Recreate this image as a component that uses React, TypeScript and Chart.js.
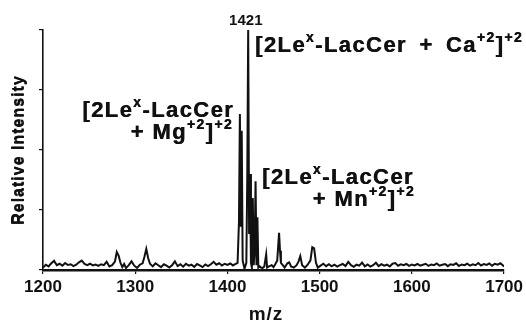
import React, { useEffect, useRef } from "react";
import { Chart, registerables } from "chart.js";

Chart.register(...registerables);

// m/z positions of the trace points
const mzValues: number[] = [
  1200, 1203, 1206, 1209, 1212, 1215, 1218, 1221, 1224, 1227, 1230, 1233, 1236, 1239, 1242, 1245,
  1248, 1251, 1254, 1257, 1260, 1263, 1266, 1269, 1272, 1275, 1278, 1280, 1282, 1284, 1286, 1288,
  1290, 1293, 1296, 1299, 1302, 1305, 1308, 1310, 1312, 1314, 1316, 1319, 1322, 1325, 1328, 1331,
  1334, 1337, 1340, 1343, 1346, 1349, 1352, 1355, 1358, 1361, 1364, 1367, 1370, 1373, 1376, 1379,
  1382, 1385, 1388, 1391, 1394, 1397, 1400, 1403, 1406, 1408, 1411, 1412.5, 1413.5, 1414.5, 1415.5, 1416.5,
  1418.5, 1420.5, 1421.5, 1422.5, 1423.5, 1424.5, 1425.5, 1426.5, 1427.5, 1428.5, 1429.5, 1430.5, 1431.5, 1432.5, 1433.5, 1435,
  1436.5, 1438, 1440, 1442, 1443, 1445, 1448, 1450, 1452, 1454, 1456, 1457, 1458, 1460, 1462, 1465,
  1467, 1469, 1472, 1475, 1477, 1479, 1481, 1484, 1487, 1490, 1492, 1494, 1496, 1498, 1501, 1504,
  1507, 1510, 1513, 1516, 1519, 1522, 1525, 1528, 1531, 1534, 1537, 1540, 1543, 1546, 1549, 1552,
  1555, 1558, 1561, 1564, 1567, 1570, 1573, 1576, 1579, 1582, 1585, 1588, 1591, 1594, 1597, 1600,
  1603, 1606, 1609, 1612, 1615, 1618, 1621, 1624, 1627, 1630, 1633, 1636, 1639, 1642, 1645, 1648,
  1651, 1654, 1657, 1660, 1663, 1666, 1669, 1672, 1675, 1678, 1681, 1684, 1687, 1690, 1693, 1696,
  1700,
];

// relative intensity (%) at each m/z above
const intensities: number[] = [
  1.0, 2.2, 1.5, 2.8, 3.8, 2.0, 2.6, 1.8, 2.9, 2.1, 2.4, 1.6, 2.2, 3.2, 3.9, 2.5,
  2.0, 2.6, 1.9, 2.3, 1.7, 2.4, 2.0, 3.4, 1.5, 2.0, 3.5, 7.5, 6.0, 3.0, 1.2, 2.5,
  0.8, 2.0, 3.6, 1.8, 0.9, 2.2, 2.8, 5.5, 8.8, 5.0, 2.6, 1.5, 2.8, 2.0, 1.2, 2.4,
  1.8, 1.0, 2.0, 3.6, 1.6, 2.4, 1.4, 2.6, 1.8, 2.2, 1.3, 2.5, 1.9, 1.2, 2.3, 1.6,
  2.4, 3.4, 2.2, 2.8, 1.9, 2.6, 2.1, 2.7, 1.9, 2.4, 3.0, 20, 65, 18, 58, 4,
  0.5, 3, 38, 100, 15, 40, 3, 1, 30, 2, 8, 37, 2, 22, 1, 1.5,
  1.0, 0.8, 1.5, 6.5, 1.0, 1.5, 2.0, 1.2, 2.5, 4, 15.5, 8, 3, 2.0, 1.0, 2.8,
  3.2, 1.5, 1.0, 2.0, 3.5, 5.8, 2.0, 1.0, 2.2, 4.0, 9.5, 9.0, 3.0, 1.0, 1.8, 2.6,
  1.6, 2.4, 1.5, 2.2, 1.4, 2.0, 2.5, 1.6, 3.4, 2.0, 1.3, 2.2, 1.8, 3.1, 1.5, 2.3,
  1.4, 2.0, 3.0, 1.6, 2.4, 1.8, 2.2, 1.5, 2.6, 2.9, 1.8, 2.4, 2.0, 2.5, 1.7, 2.3,
  1.9, 2.5, 1.8, 2.2, 2.6, 1.7, 2.3, 2.0, 2.7, 1.8, 2.2, 2.5, 1.6, 2.4, 2.1, 2.8,
  1.7, 2.3, 2.0, 2.6, 1.8, 2.4, 2.0, 2.9, 1.9, 2.5, 2.1, 2.7, 1.8, 2.6, 2.2, 2.8,
  1.5,
];

const xMin = 1200;
const xMax = 1700;
const xStep = 100;
const yMax = 100;
const yStep = 25;

const peakLabel = "1421";
const peakMz = 1421;
const xTitle = "m/z";
const yTitle = "Relative Intensity";

type Seg = { t: string; sup?: boolean };

const caLabel: Seg[] = [
  { t: "[2Le" }, { t: "x", sup: true }, { t: "-LacCer\u2002+\u2002Ca" }, { t: "+2", sup: true }, { t: "]" }, { t: "+2", sup: true },
];
const mgLabel1: Seg[] = [{ t: "[2Le" }, { t: "x", sup: true }, { t: "-LacCer" }];
const mgLabel2: Seg[] = [{ t: "+ Mg" }, { t: "+2", sup: true }, { t: "]" }, { t: "+2", sup: true }];
const mnLabel1: Seg[] = [{ t: "[2Le" }, { t: "x", sup: true }, { t: "-LacCer" }];
const mnLabel2: Seg[] = [{ t: "+ Mn" }, { t: "+2", sup: true }, { t: "]" }, { t: "+2", sup: true }];

const FAMILY = '"Liberation Sans", Arial, Helvetica, sans-serif';

function drawRich(
  ctx: CanvasRenderingContext2D,
  segs: Seg[],
  x: number,
  y: number,
  align: "left" | "right",
  size: number,
  spacing: number
) {
  const mainFont = `bold ${size}px ${FAMILY}`;
  const supFont = `bold ${Math.round(size * 0.62)}px ${FAMILY}`;
  (ctx as any).letterSpacing = `${spacing}px`;
  const widths = segs.map((s) => {
    ctx.font = s.sup ? supFont : mainFont;
    return ctx.measureText(s.t).width;
  });
  const total = widths.reduce((a, b) => a + b, 0);
  let cx = align === "right" ? x - total : x;
  ctx.textAlign = "left";
  ctx.textBaseline = "alphabetic";
  segs.forEach((s, i) => {
    ctx.font = s.sup ? supFont : mainFont;
    const yy = s.sup ? y - size * 0.45 : y;
    ctx.fillText(s.t, cx, yy);
    ctx.fillText(s.t, cx + 0.5, yy);
    cx += widths[i];
  });
}

const textPlugin = {
  id: "spectrumText",
  afterDraw(chart: any) {
    const ctx: CanvasRenderingContext2D = chart.ctx;
    const xs = chart.scales.x;
    ctx.save();
    ctx.fillStyle = "#111";

    // peak value label
    (ctx as any).letterSpacing = "0px";
    ctx.font = `bold 15px ${FAMILY}`;
    ctx.textAlign = "center";
    ctx.textBaseline = "alphabetic";
    ctx.fillText(peakLabel, xs.getPixelForValue(peakMz) - 1, 25);

    // ion annotations
    drawRich(ctx, caLabel, 255, 52, "left", 22, 1.4);
    drawRich(ctx, mgLabel1, 234, 117, "right", 22, 1.4);
    drawRich(ctx, mgLabel2, 233, 139, "right", 22, 1.4);
    drawRich(ctx, mnLabel1, 262, 184, "left", 22, 1.4);
    drawRich(ctx, mnLabel2, 415, 206, "right", 22, 1.4);

    // axis titles
    (ctx as any).letterSpacing = "1px";
    ctx.font = `bold 16px ${FAMILY}`;
    ctx.textAlign = "center";
    ctx.textBaseline = "middle";
    ctx.save();
    ctx.translate(19, 150);
    ctx.rotate(-Math.PI / 2);
    ctx.fillText(yTitle, 0, 0);
    ctx.fillText(yTitle, 0, 0.4);
    ctx.restore();

    (ctx as any).letterSpacing = "1px";
    ctx.font = `bold 19px ${FAMILY}`;
    ctx.textBaseline = "alphabetic";
    ctx.fillText(xTitle, 266, 320);
    ctx.restore();
  },
};

export default function App() {
  const canvasRef = useRef<HTMLCanvasElement | null>(null);

  useEffect(() => {
    if (!canvasRef.current) return;
    const points = mzValues.map((m, i) => ({ x: m, y: intensities[i] }));
    const chart = new Chart(canvasRef.current, {
      type: "line",
      data: {
        datasets: [
          {
            data: points,
            borderColor: "#111",
            borderWidth: 2,
            pointRadius: 0,
            tension: 0,
            fill: false,
          },
        ],
      },
      options: {
        animation: false,
        responsive: false,
        devicePixelRatio: 1,
        layout: { padding: { left: 0, top: 30, right: 19, bottom: 0 } },
        plugins: {
          legend: { display: false },
          tooltip: { enabled: false },
          title: { display: false },
        },
        scales: {
          x: {
            type: "linear",
            min: xMin,
            max: xMax,
            afterFit: (s: any) => {
              s.height = 55;
            },
            afterBuildTicks: (s: any) => {
              const t = [];
              for (let v = xMin; v <= xMax; v += xStep) t.push({ value: v });
              s.ticks = t;
            },
            border: { display: true, color: "#111", width: 2.5 },
            grid: {
              display: true,
              drawOnChartArea: false,
              drawTicks: true,
              tickLength: 4,
              color: "#111",
              lineWidth: 1.2,
            },
            ticks: {
              color: "#111",
              padding: 3,
              maxRotation: 0,
              autoSkip: false,
              font: { family: FAMILY, size: 17, weight: "bold" },
              callback: (v: any) => String(v),
            },
          },
          y: {
            min: 0,
            max: yMax,
            afterFit: (s: any) => {
              s.width = 43;
            },
            border: { display: true, color: "#111", width: 1.6 },
            grid: {
              display: true,
              drawOnChartArea: false,
              drawTicks: true,
              tickLength: 4,
              color: "#111",
              lineWidth: 1.2,
            },
            ticks: { display: false, stepSize: yStep },
          },
        },
      },
      plugins: [textPlugin],
    } as any);
    return () => chart.destroy();
  }, []);

  return (
    <div style={{ position: "fixed", left: 0, top: 0, width: 526, height: 325, background: "#fff" }}>
      <canvas ref={canvasRef} width={526} height={325} style={{ display: "block" }} />
    </div>
  );
}
